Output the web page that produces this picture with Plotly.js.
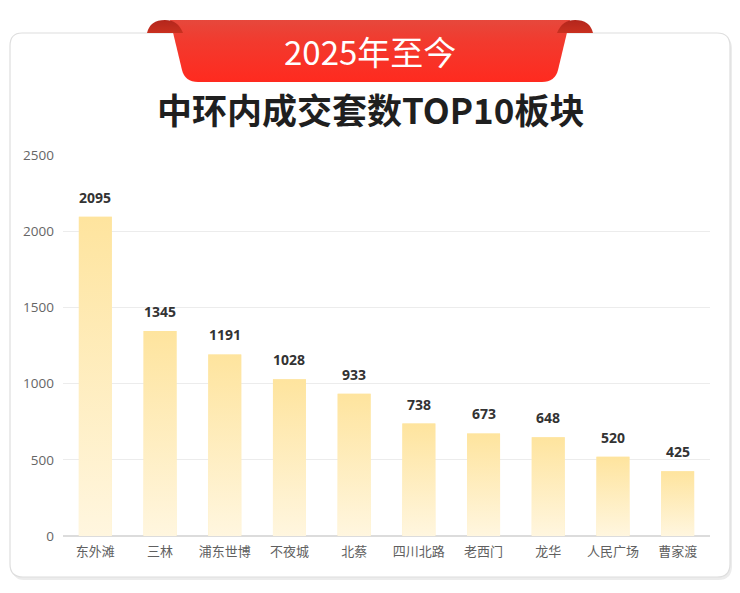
<!DOCTYPE html>
<html>
<head>
<meta charset="utf-8">
<script src="https://cdn.plot.ly/plotly-3.0.1.min.js"></script>
<style>
html,body{margin:0;padding:0;background:#ffffff;}
#chart{width:740px;height:593px;}
</style>
</head>
<body>
<div id="chart"></div>
<script>
// ---- data ----
var categories = ['东外滩','三林','浦东世博','不夜城','北蔡','四川北路','老西门','龙华','人民广场','曹家渡'];
var values = [2095, 1345, 1191, 1028, 933, 738, 673, 648, 520, 425];
var yTickVals = [0, 500, 1000, 1500, 2000, 2500];
var bannerText = '2025年至今';
var titleText = '中环内成交套数TOP10板块';

// ---- layout geometry (pixels) ----
var W = 740, H = 593;
var L = 63, R = 710, T = 155, B = 536;
function X(px){ return (px - L) / (R - L); }
function Y(py){ return (B - py) / (B - T); }
function pathFrom(pts){
  return pts.map(function(c){
    if (c[0] === 'Z') return 'Z';
    var out = c[0];
    for (var i = 1; i < c.length; i += 2) {
      out += (i > 1 ? ' ' : '') + X(c[i]).toFixed(5) + ',' + Y(c[i+1]).toFixed(5);
    }
    return out;
  }).join(' ');
}

var idx = categories.map(function(_, i){ return i; });
var barWidth = 0.51;

var traces = [];
traces.push({
  type: 'bar',
  x: idx,
  y: values,
  width: barWidth,
  marker: {color: '#feecb8', line: {width: 0}},
  hoverinfo: 'skip',
  showlegend: false
});
values.forEach(function(v, i){
  var x0 = i - barWidth / 2, x1 = i + barWidth / 2;
  traces.push({
    type: 'scatter',
    mode: 'lines',
    x: [x0, x1, x1, x0, x0],
    y: [0, 0, v, v, 0],
    fill: 'toself',
    line: {width: 0, color: 'rgba(0,0,0,0)'},
    fillcolor: '#feecb8',
    fillgradient: {
      type: 'vertical',
      colorscale: [[0, '#fff6df'], [1, '#fee49e']]
    },
    hoverinfo: 'skip',
    showlegend: false
  });
});

var annotations = values.map(function(v, i){
  return {
    x: i, y: v, xref: 'x', yref: 'y',
    text: '<b>' + v + '</b>',
    showarrow: false,
    yanchor: 'bottom',
    yshift: 8,
    font: {family: '"Noto Sans", "Noto Sans CJK SC", sans-serif', size: 14, color: '#333333'}
  };
});
annotations.push({
  x: X(370), y: Y(51), xref: 'paper', yref: 'paper',
  text: bannerText, showarrow: false,
  xanchor: 'center', yanchor: 'middle',
  font: {family: '"Noto Sans CJK SC", sans-serif', size: 33, color: '#ffffff'}
});
annotations.push({
  x: X(370), y: Y(109), xref: 'paper', yref: 'paper',
  text: '<b>' + titleText + '</b>', showarrow: false,
  xanchor: 'center', yanchor: 'middle',
  font: {family: '"Noto Sans CJK SC", sans-serif', size: 35, color: '#1f1f1f'}
});

// ribbon graphic (decoration only) as an inline SVG image
var ribbonSvg =
  '<svg xmlns="http://www.w3.org/2000/svg" width="740" height="593" viewBox="0 0 740 593">' +
  '<defs><linearGradient id="g" x1="0" y1="0" x2="0" y2="1">' +
  '<stop offset="0" stop-color="#e6483c"/><stop offset="0.35" stop-color="#f23a2e"/><stop offset="1" stop-color="#ff2a1f"/>' +
  '</linearGradient>' +
  '<linearGradient id="e" x1="0" y1="0" x2="0" y2="1">' +
  '<stop offset="0" stop-color="#b3261c"/><stop offset="1" stop-color="#c9301f"/></linearGradient></defs>' +
  '<path d="M170,20 L570,20 L558,70 Q555,82 542,82 L198,82 Q185,82 182,70 Z" fill="url(#g)"/>' +
  '<path d="M147,33 Q150,20 165,20 Q178,20 183,33 Z" fill="url(#e)"/>' +
  '<path d="M593,33 Q590,20 575,20 Q562,20 557,33 Z" fill="url(#e)"/>' +
  '</svg>';

var images = [{
  source: 'data:image/svg+xml;charset=utf-8,' + encodeURIComponent(ribbonSvg),
  xref: 'paper', yref: 'paper',
  x: X(0), y: Y(0),
  sizex: W / (R - L), sizey: H / (B - T),
  xanchor: 'left', yanchor: 'top',
  sizing: 'stretch',
  layer: 'above'
}];

var shapes = [
  {type: 'path', xref: 'paper', yref: 'paper', layer: 'below',
   path: pathFrom([['M',22,35],['L',718,35],['Q',732,35,732,49],['L',732,566],['Q',732,580,718,580],['L',24,580],['Q',12,580,12,566],['L',12,49],['Q',12,35,22,35],['Z']]),
   fillcolor: '#ececec', line: {width: 0}},
  {type: 'path', xref: 'paper', yref: 'paper', layer: 'below',
   path: pathFrom([['M',22,33],['L',717,33],['Q',730,33,730,46],['L',730,564],['Q',730,577,717,577],['L',23,577],['Q',10,577,10,564],['L',10,46],['Q',10,33,22,33],['Z']]),
   fillcolor: '#ffffff', line: {color: '#dedede', width: 1.2}}
];

var layout = {
  width: W, height: H,
  margin: {l: L, r: W - R, t: T, b: H - B, pad: 0},
  paper_bgcolor: '#ffffff',
  plot_bgcolor: 'rgba(0,0,0,0)',
  showlegend: false,
  xaxis: {
    range: [-0.5, categories.length - 0.5],
    tickvals: idx,
    ticktext: categories,
    showgrid: false, zeroline: false, showline: false,
    ticks: '', ticklen: 0,
    ticklabelstandoff: 6,
    tickfont: {family: '"Noto Sans CJK SC", sans-serif', size: 13, color: '#606060'},
    fixedrange: true
  },
  yaxis: {
    range: [0, 2500],
    tickvals: yTickVals,
    ticktext: yTickVals.map(String),
    showgrid: true, gridcolor: '#ececec', gridwidth: 1,
    zeroline: true, zerolinecolor: '#dcdcdc', zerolinewidth: 1.2,
    showline: false, ticks: '',
    ticklabelstandoff: 8,
    tickfont: {family: '"Open Sans", "Noto Sans", sans-serif', size: 13.5, color: '#666666'},
    fixedrange: true
  },
  annotations: annotations,
  shapes: shapes,
  images: images
};

Plotly.newPlot('chart', traces, layout, {staticPlot: true, displayModeBar: false});
</script>
</body>
</html>
